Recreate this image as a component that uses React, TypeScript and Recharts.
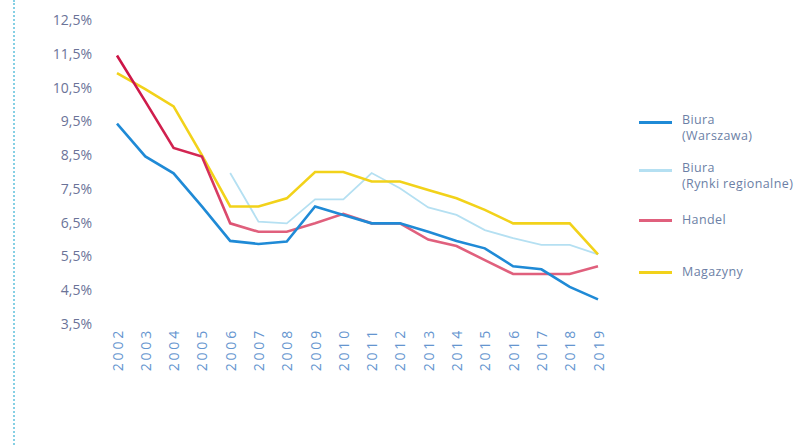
import { LineChart, Line, XAxis, YAxis } from 'recharts';

const years = [
  '2002', '2003', '2004', '2005', '2006', '2007', '2008', '2009', '2010',
  '2011', '2012', '2013', '2014', '2015', '2016', '2017', '2018', '2019',
];

const biuraWarszawa = [9.43, 8.46, 7.96, 6.98, 5.96, 5.87, 5.94, 6.98, 6.73, 6.48, 6.48, 6.23, 5.96, 5.74, 5.21, 5.12, 4.6, 4.23];
const biuraRegionalne = [null, null, null, null, 7.97, 6.53, 6.48, 7.19, 7.19, 7.97, 7.52, 6.95, 6.73, 6.28, 6.04, 5.84, 5.84, 5.56];
const handel = [11.45, 10.09, 8.71, 8.46, 6.48, 6.23, 6.23, 6.48, 6.76, 6.48, 6.48, 6.0, 5.81, 5.39, 4.98, 4.98, 4.98, 5.21];
const magazyny = [10.93, 10.45, 9.94, 8.5, 6.98, 6.98, 7.22, 8.0, 8.0, 7.72, 7.72, 7.47, 7.22, 6.88, 6.48, 6.48, 6.48, 5.56];

const yTicks = [3.5, 4.5, 5.5, 6.5, 7.5, 8.5, 9.5, 10.5, 11.5, 12.5];

const data = years.map((year, i) => ({
  year,
  warszawa: biuraWarszawa[i],
  regionalne: biuraRegionalne[i],
  handel: handel[i],
  magazyny: magazyny[i],
}));

const legendItems = [
  { lines: ['Biura', '(Warszawa)'], color: '#1f8ad6', top: 121 },
  { lines: ['Biura', '(Rynki regionalne)'], color: '#b5e0f2', top: 169 },
  { lines: ['Handel'], color: '#e0607d', top: 219 },
  { lines: ['Magazyny'], color: '#f2d21a', top: 271 },
];

const font = '"Open Sans", sans-serif';

const YearTick = (props: any) => {
  const { x, y, payload } = props;
  return (
    <text
      x={x}
      y={y}
      transform={`rotate(-90, ${x}, ${y})`}
      textAnchor="end"
      dominantBaseline="central"
      fill="#6595cf"
      fontSize={14}
      letterSpacing={2.8}
      fontFamily={font}
    >
      {payload.value}
    </text>
  );
};

const ChartLegend = () => (
  <div style={{ position: 'absolute', left: 639, top: 0, fontFamily: font }}>
    {legendItems.map((item) => (
      <div key={item.lines.join(' ')} style={{ position: 'absolute', top: item.top, left: 0 }}>
        <div style={{ position: 'absolute', left: 0, top: 0, width: 33, height: 3, background: item.color }} />
        <div
          style={{
            position: 'absolute',
            left: 43,
            top: item.lines.length > 1 ? -9 : -7,
            fontSize: 12.5,
            lineHeight: '16px',
            color: '#6c7fa6',
            whiteSpace: 'nowrap',
            letterSpacing: 0.4,
          }}
        >
          {item.lines.map((l) => (
            <div key={l}>{l}</div>
          ))}
        </div>
      </div>
    ))}
  </div>
);

export default function App() {
  return (
    <div style={{ position: 'absolute', left: 0, top: 0, width: 810, height: 445, background: '#fff', overflow: 'hidden' }}>
      <div style={{ position: 'absolute', left: 13, top: 0, height: 445, borderLeft: '2px dotted #86d0e4' }} />
      <LineChart
        width={810}
        height={445}
        data={data}
        margin={{ top: 20, right: 212, bottom: 0, left: 17 }}
      >
        <defs>
          <linearGradient id="handelGrad" x1="0" y1="0" x2="1" y2="0">
            <stop offset="0%" stopColor="#cc1446" />
            <stop offset="18%" stopColor="#d42a55" />
            <stop offset="26%" stopColor="#e0607d" />
            <stop offset="100%" stopColor="#e0607d" />
          </linearGradient>
        </defs>
        <XAxis
          dataKey="year"
          axisLine={false}
          tickLine={false}
          tickSize={0}
          tickMargin={4}
          interval={0}
          height={121}
          tick={<YearTick />}
        />
        <YAxis
          type="number"
          domain={[3.5, 12.5]}
          ticks={yTicks}
          axisLine={false}
          tickLine={false}
          tickSize={0}
          tickMargin={25}
          width={100}
          tickFormatter={(v: number) => `${v.toFixed(1).replace('.', ',')}%`}
          tick={{ fill: '#6b7398', fontSize: 14, fontFamily: font }}
        />
        <Line dataKey="regionalne" stroke="#b5e0f2" strokeWidth={1.8} dot={false} isAnimationActive={false} />
        <Line dataKey="magazyny" stroke="#f2d21a" strokeWidth={2.6} dot={false} isAnimationActive={false} />
        <Line dataKey="handel" stroke="url(#handelGrad)" strokeWidth={2.6} dot={false} isAnimationActive={false} />
        <Line dataKey="warszawa" stroke="#1f8ad6" strokeWidth={2.6} dot={false} isAnimationActive={false} />
      </LineChart>
      <ChartLegend />
    </div>
  );
}
